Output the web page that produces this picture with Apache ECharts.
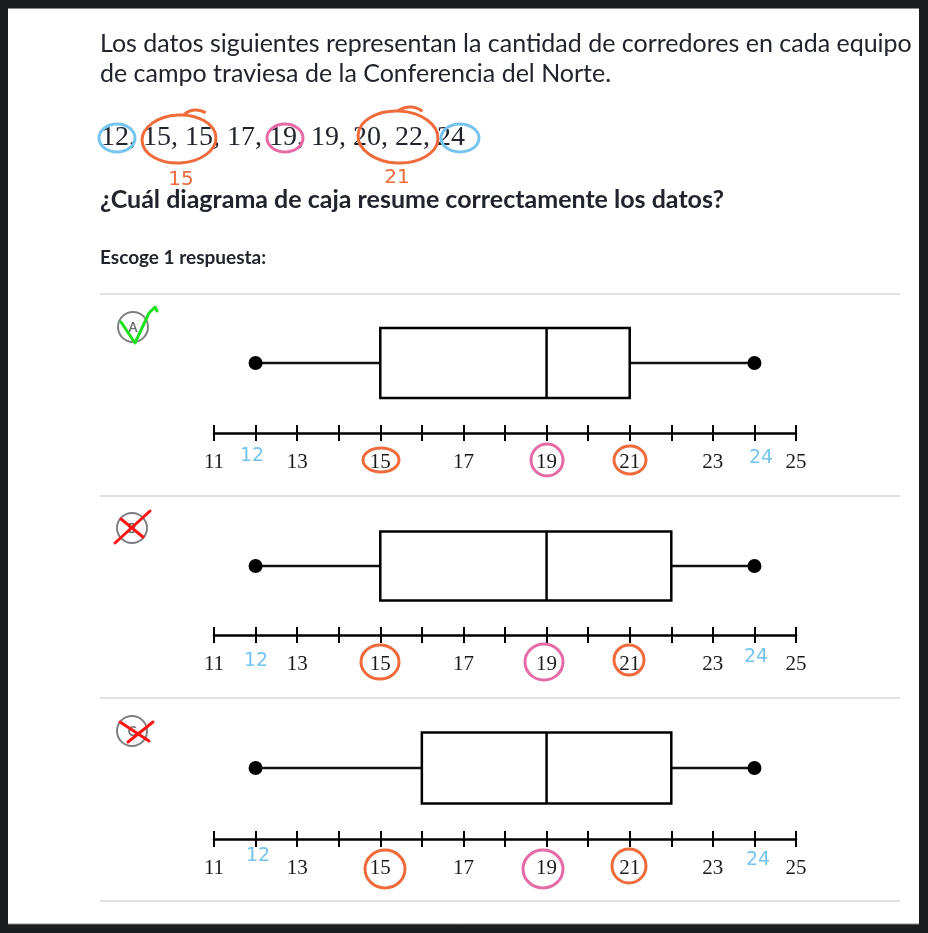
<!DOCTYPE html>
<html>
<head>
<meta charset="utf-8">
<script src="https://cdn.jsdelivr.net/npm/echarts@6/dist/echarts.min.js"></script>
<style>
html,body{margin:0;padding:0;background:#1c1d1f;}
#chart{width:928px;height:933px;}
</style>
</head>
<body>
<div id="chart"></div>
<script>
// ---- data ----
const dataValues = [12, 15, 15, 17, 19, 19, 20, 22, 24];
const options = ['A', 'B', 'C'];
const minVals = [12, 12, 12];
const q1Vals = [15, 15, 16];
const medVals = [19, 19, 19];
const q3Vals = [21, 22, 22];
const maxVals = [24, 24, 24];
const tickLabels = [11, 13, 15, 17, 19, 21, 23, 25];
const axisMin = 11, axisMax = 25;
const introLines = [
  'Los datos siguientes representan la cantidad de corredores en cada equipo',
  'de campo traviesa de la Conferencia del Norte.'
];
const questionText = '¿Cuál diagrama de caja resume correctamente los datos?';
const chooseText = 'Escoge 1 respuesta:';
const noteLabels = ['15', '21'];
const noteEnds = ['12', '24'];

// ---- layout ----
const gridTops = [293, 497, 697];
const gridHeights = [140, 138, 142];
const INK = '#21242c';
const ORANGE = '#ef6b3b', PINK = '#e66aa6', BLUE = '#74c4ef';

const chart = echarts.init(document.getElementById('chart'));

const grids = [], xAxes = [], yAxes = [], series = [];
options.forEach((opt, i) => {
  grids.push({left: 214, right: 132, top: gridTops[i], height: gridHeights[i]});
  xAxes.push({
    type: 'value', gridIndex: i, min: axisMin, max: axisMax, interval: 1,
    position: 'bottom',
    axisLine: {show: true, lineStyle: {color: '#000', width: 2.5}},
    axisTick: {show: true, inside: true, length: 8, lineStyle: {color: '#000', width: 2}},
    splitLine: {show: false},
    axisLabel: {
      show: true, margin: 19, color: '#1a1a1a', fontSize: 21, fontFamily: 'Liberation Serif',
      formatter: v => tickLabels.indexOf(v) >= 0 ? String(v) : ''
    }
  });
  xAxes.push({
    type: 'value', gridIndex: i, min: axisMin, max: axisMax, interval: 1,
    position: 'bottom', offset: 0,
    axisLine: {show: false},
    axisTick: {show: true, inside: false, length: 8, lineStyle: {color: '#000', width: 2}},
    splitLine: {show: false},
    axisLabel: {show: false}
  });
  yAxes.push({type: 'category', gridIndex: i, data: [opt], show: false});
  series.push({
    type: 'custom', xAxisIndex: 2 * i, yAxisIndex: i,
    data: [[minVals[i], q1Vals[i], medVals[i], q3Vals[i], maxVals[i]]],
    encode: {x: [0, 1, 2, 3, 4]},
    renderItem: function (params, api) {
      const mn = api.coord([api.value(0), 0]);
      const q1 = api.coord([api.value(1), 0]);
      const md = api.coord([api.value(2), 0]);
      const q3 = api.coord([api.value(3), 0]);
      const mx = api.coord([api.value(4), 0]);
      const cy = mn[1];
      const h = api.size([0, 1])[1] * 0.5;
      const ls = {stroke: '#111', lineWidth: 2.5, fill: 'none'};
      return {
        type: 'group',
        children: [
          {type: 'line', shape: {x1: mn[0], y1: cy, x2: q1[0], y2: cy}, style: ls},
          {type: 'line', shape: {x1: q3[0], y1: cy, x2: mx[0], y2: cy}, style: ls},
          {type: 'rect', shape: {x: q1[0], y: cy - h / 2, width: q3[0] - q1[0], height: h},
           style: {stroke: '#000', lineWidth: 2.5, fill: '#fff'}},
          {type: 'line', shape: {x1: md[0], y1: cy - h / 2, x2: md[0], y2: cy + h / 2},
           style: {stroke: '#000', lineWidth: 2.5}}
        ]
      };
    }
  });
  series.push({
    type: 'scatter', xAxisIndex: 2 * i, yAxisIndex: i,
    data: [[minVals[i], 0], [maxVals[i], 0]],
    symbol: 'circle', symbolSize: 14, itemStyle: {color: '#000', opacity: 1}, z: 5
  });
});

// ---- page graphics ----
const g = [];
// frame
g.push({type: 'rect', shape: {x: 0, y: 0, width: 928, height: 8.5}, style: {fill: '#1c1d1f'}, z: 200});
g.push({type: 'rect', shape: {x: 0, y: 0, width: 8, height: 933}, style: {fill: '#1c1d1f'}, z: 200});
g.push({type: 'rect', shape: {x: 919, y: 0, width: 9, height: 933}, style: {fill: '#1c1d1f'}, z: 200});
g.push({type: 'rect', shape: {x: 0, y: 924, width: 928, height: 9}, style: {fill: '#1c1d1f'}, z: 200});
g.push({type: 'line', shape: {x1: 8, y1: 8.5, x2: 919, y2: 8.5}, style: {stroke: '#8a8a8a', lineWidth: 1}, z: 201});
g.push({type: 'line', shape: {x1: 8, y1: 924, x2: 919, y2: 924}, style: {stroke: '#8a8a8a', lineWidth: 1}, z: 201});

function txt(text, x, y, font, fill, align, extra) {
  return Object.assign({type: 'text', x: x, y: y, z: 50,
    style: {text: text, font: font, fill: fill, textAlign: align || 'left', textVerticalAlign: 'middle'}}, extra || {});
}
g.push(txt(introLines[0], 100, 44, '25px Lato', INK));
g.push(txt(introLines[1], 100, 74, '25px Lato', INK));
g.push(txt(dataValues.join(', '), 101, 138, '28px "Liberation Serif"', INK));
g.push(txt(questionText, 100, 200, 'bold 25px Lato', INK));
g.push(txt(chooseText, 100, 258, 'bold 19px Lato', INK));

// separators
[294, 496, 698, 901].forEach(y => {
  g.push({type: 'line', shape: {x1: 100, y1: y, x2: 900, y2: y}, style: {stroke: '#d8d9db', lineWidth: 1.5}, z: 1});
});

// option circles
const optCenters = [[133, 327], [132, 528], [132, 731]];
options.forEach((opt, i) => {
  const c = optCenters[i];
  g.push({type: 'circle', shape: {cx: c[0], cy: c[1], r: 15}, style: {stroke: '#7d7f83', lineWidth: 2, fill: '#fff'}, z: 40});
  g.push(txt(opt, c[0], c[1] + 1, 'bold 13px Lato', '#6b6d71', 'center', {z: 41}));
});
// green check
g.push({type: 'polyline', shape: {points: [[121, 322], [135, 343], [149, 313], [155, 307], [157, 311]]},
  style: {stroke: '#1fe01f', lineWidth: 3, lineJoin: 'round', lineCap: 'round', fill: 'none'}, z: 60});
// red crosses
const red = {stroke: '#ff1414', lineWidth: 3, lineCap: 'round'};
g.push({type: 'line', shape: {x1: 115, y1: 543, x2: 150, y2: 511}, style: red, z: 60});
g.push({type: 'line', shape: {x1: 121, y1: 519, x2: 143, y2: 537}, style: red, z: 60});
g.push({type: 'line', shape: {x1: 120, y1: 722, x2: 149, y2: 741}, style: red, z: 60});
g.push({type: 'line', shape: {x1: 128, y1: 742, x2: 153, y2: 722}, style: red, z: 60});

// annotations on data line
function ell(cx, cy, rx, ry, color, rot) {
  return {type: 'ellipse', shape: {cx: 0, cy: 0, rx: rx, ry: ry}, x: cx, y: cy, rotation: rot || 0,
    style: {stroke: color, lineWidth: 3, fill: 'none'}, z: 70};
}
g.push(ell(117, 138, 18, 14, BLUE));
g.push(ell(179, 139, 37, 24, ORANGE, 0.05));
g.push({type: 'arc', shape: {cx: 196, cy: 128, r: 18, startAngle: -2.3, endAngle: -1.0}, style: {stroke: ORANGE, lineWidth: 3, fill: 'none'}, z: 70});
g.push(ell(285, 138, 18, 14, PINK));
g.push(ell(398, 137, 40, 26, ORANGE, -0.05));
g.push({type: 'arc', shape: {cx: 410, cy: 127, r: 20, startAngle: -2.2, endAngle: -0.9}, style: {stroke: ORANGE, lineWidth: 3, fill: 'none'}, z: 70});
g.push(ell(460, 138, 19, 14, BLUE));
g.push(txt(noteLabels[0], 181, 180, '20px "DejaVu Sans"', ORANGE, 'center', {z: 70}));
g.push(txt(noteLabels[1], 397, 178, '20px "DejaVu Sans"', ORANGE, 'center', {z: 70}));

// annotations on axis labels
const axisNotes = [
  {o15: [381, 460, 18, 12], p19: [547, 460, 16, 16], o21: [630, 460, 16, 14], b12: [252, 456], b24: [761, 458]},
  {o15: [380, 662, 19, 17], p19: [544, 662, 19, 18], o21: [629, 660, 15, 15], b12: [256, 661], b24: [756, 657]},
  {o15: [385, 869, 20, 19], p19: [543, 869, 20, 19], o21: [629, 866, 17, 17], b12: [258, 856], b24: [758, 860]}
];
axisNotes.forEach(n => {
  g.push(ell(n.o15[0], n.o15[1], n.o15[2], n.o15[3], ORANGE));
  g.push(ell(n.p19[0], n.p19[1], n.p19[2], n.p19[3], PINK));
  g.push(ell(n.o21[0], n.o21[1], n.o21[2], n.o21[3], ORANGE));
  g.push(txt(noteEnds[0], n.b12[0], n.b12[1], '19px "DejaVu Sans"', BLUE, 'center', {z: 70}));
  g.push(txt(noteEnds[1], n.b24[0], n.b24[1], '19px "DejaVu Sans"', BLUE, 'center', {z: 70}));
});

chart.setOption({
  backgroundColor: '#ffffff',
  animation: false,
  grid: grids,
  xAxis: xAxes,
  yAxis: yAxes,
  series: series,
  graphic: {elements: g}
});
</script>
</body>
</html>
